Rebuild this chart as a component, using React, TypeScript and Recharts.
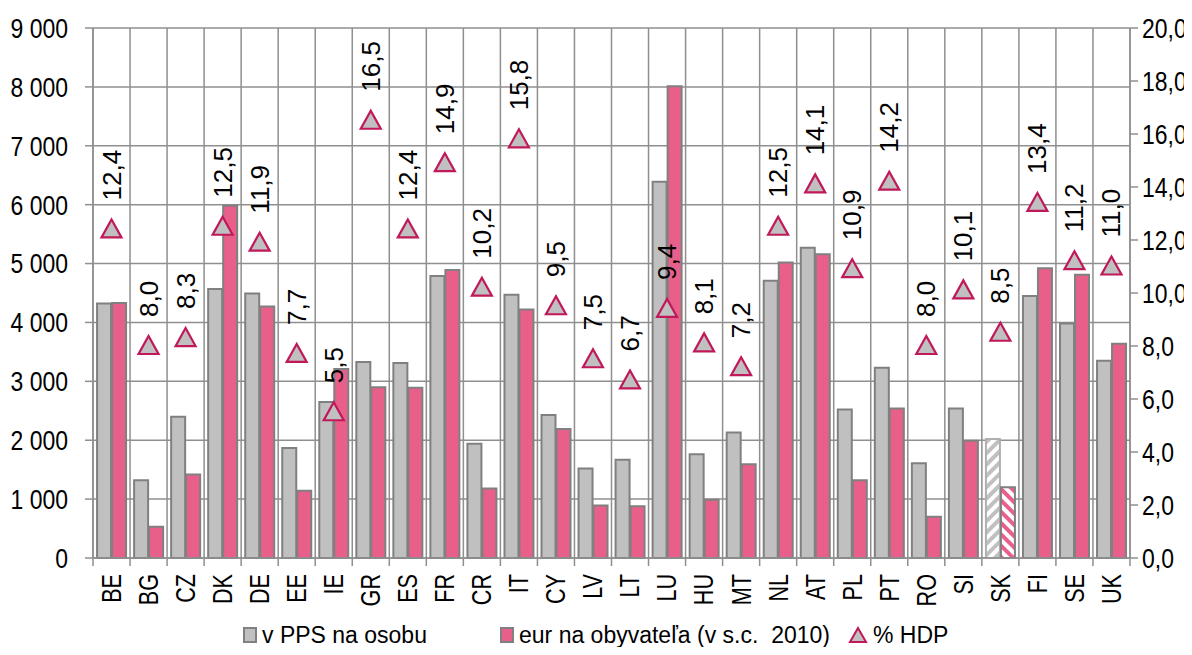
import React from 'react';
import {
  ComposedChart, Bar, Scatter, XAxis, YAxis, CartesianGrid, Legend, Cell, LabelList,
} from 'recharts';

const countries = [
  'BE', 'BG', 'CZ', 'DK', 'DE', 'EE', 'IE', 'GR', 'ES', 'FR', 'CR', 'IT', 'CY', 'LV',
  'LT', 'LU', 'HU', 'MT', 'NL', 'AT', 'PL', 'PT', 'RO', 'SI', 'SK', 'FI', 'SE', 'UK',
];
const ppsPerPerson = [
  4320, 1320, 2400, 4570, 4490, 1870, 2650, 3330, 3310, 4790, 1940, 4470, 2430, 1520,
  1670, 6390, 1760, 2130, 4710, 5270, 2520, 3230, 1610, 2540, 2020, 4450, 3980, 3350,
];
const eurPerInhabitant = [
  4330, 530, 1420, 5980, 4270, 1140, 3210, 2900, 2890, 4890, 1180, 4220, 2190, 890,
  880, 8010, 990, 1590, 5020, 5160, 1320, 2540, 700, 1990, 1200, 4920, 4810, 3640,
];
const hdpShare = [
  12.4, 8.0, 8.3, 12.5, 11.9, 7.7, 5.5, 16.5, 12.4, 14.9, 10.2, 15.8, 9.5, 7.5,
  6.7, 9.4, 8.1, 7.2, 12.5, 14.1, 10.9, 14.2, 8.0, 10.1, 8.5, 13.4, 11.2, 11.0,
];
const hatchedCountry = 'SK';

const leftTicks = [0, 1000, 2000, 3000, 4000, 5000, 6000, 7000, 8000, 9000];
const rightTicks = [0, 2, 4, 6, 8, 10, 12, 14, 16, 18, 20];

const seriesNames = ['v PPS na osobu', 'eur na obyvateľa (v s.c.  2010)', '% HDP'];

const data = countries.map((country, i) => ({
  country,
  pps: ppsPerPerson[i],
  eur: eurPerInhabitant[i],
  hdp: hdpShare[i],
}));

const FONT = '"Liberation Sans", Arial, sans-serif';
const GRID = '#8f8f8f';
const GREY_FILL = '#c0c0c0';
const PINK_FILL = '#e8608a';
const BAR_STROKE = '#808080';
const TRI_STROKE = '#c0185a';
const NARROW = 0.82;

const fmtLeft = (v: number) => (v === 0 ? '0' : `${v / 1000} 000`);
const fmtRight = (v: number) => v.toFixed(1).replace('.', ',');

// axis text squeezed horizontally, like Arial Narrow
function AxisTick(props: any) {
  const { x, y, payload, anchor, format } = props;
  return (
    <text
      transform={`translate(${x} ${y}) scale(${NARROW} 1)`}
      textAnchor={anchor}
      dominantBaseline="central"
      fontSize={28}
      fill="#000"
      fontFamily={FONT}
    >
      {format(payload.value)}
    </text>
  );
}

function CountryTick(props: any) {
  const { x, y, payload, index, visibleTicksCount, width } = props;
  const step = width / visibleTicksCount;
  const top = y - 10;
  return (
    <g>
      <line x1={x - step / 2} x2={x - step / 2} y1={top} y2={top + 8} stroke={GRID} strokeWidth={1.5} />
      {index === visibleTicksCount - 1 && (
        <line x1={x + step / 2} x2={x + step / 2} y1={top} y2={top + 8} stroke={GRID} strokeWidth={1.5} />
      )}
      <text
        transform={`translate(${x} ${y + 6}) rotate(-90) scale(0.8 1)`}
        textAnchor="end"
        dominantBaseline="central"
        fontSize={27}
        fill="#000"
        fontFamily={FONT}
      >
        {payload.value}
      </text>
    </g>
  );
}

function Triangle(props: any) {
  const { cx, cy } = props;
  return (
    <polygon
      points={`${cx - 10},${cy + 8} ${cx + 10},${cy + 8} ${cx},${cy - 10}`}
      fill={GREY_FILL}
      stroke={TRI_STROKE}
      strokeWidth={2.2}
    />
  );
}

function HdpLabel(props: any) {
  const { x, y, width, height, value } = props;
  const cx = x + (width || 0) / 2;
  const cy = y + (height || 0) / 2;
  const ly = cy - 29;
  return (
    <text
      transform={`translate(${cx} ${ly}) rotate(-90)`}
      textAnchor="start"
      dominantBaseline="central"
      fontSize={26}
      fill="#000"
      fontFamily={FONT}
    >
      {fmtRight(value)}
    </text>
  );
}

function LegendBox() {
  const item = { display: 'flex', alignItems: 'center', gap: 5, flexShrink: 0 } as const;
  return (
    <div
      style={{
        height: 45,
        boxSizing: 'border-box',
        paddingTop: 4,
        display: 'flex',
        alignItems: 'center',
        fontFamily: FONT,
        fontSize: 23,
        lineHeight: '28px',
        color: '#000',
        paddingLeft: 243,
      }}
    >
      <div style={{ ...item, width: 257 }}>
        <svg width={14} height={16}>
          <rect x={1} y={1} width={12} height={14} fill={GREY_FILL} stroke={BAR_STROKE} strokeWidth={2} />
        </svg>
        <span>{seriesNames[0]}</span>
      </div>
      <div style={{ ...item, width: 348 }}>
        <svg width={14} height={16}>
          <rect x={1} y={1} width={12} height={14} fill={PINK_FILL} stroke={BAR_STROKE} strokeWidth={2} />
        </svg>
        <span style={{ whiteSpace: 'pre' }}>{seriesNames[1]}</span>
      </div>
      <div style={item}>
        <svg width={20} height={18}>
          <polygon points="2,16 18,16 10,2" fill={GREY_FILL} stroke={TRI_STROKE} strokeWidth={2} />
        </svg>
        <span>{seriesNames[2]}</span>
      </div>
    </div>
  );
}

export default function App() {
  return (
    <div style={{ margin: -8, width: 1192, height: 655, background: '#fff' }}>
      <ComposedChart
        width={1192}
        height={655}
        data={data}
        margin={{ top: 28, right: 0, left: 0, bottom: 0 }}
        barCategoryGap="11%"
        barGap={1}
      >
        <defs>
          <pattern id="hatchGrey" width="8" height="8" patternUnits="userSpaceOnUse" patternTransform="rotate(45)">
            <rect width="8" height="8" fill="#fff" />
            <rect width="4" height="8" fill={GREY_FILL} />
          </pattern>
          <pattern id="hatchPink" width="8" height="8" patternUnits="userSpaceOnUse" patternTransform="rotate(-45)">
            <rect width="8" height="8" fill="#fff" />
            <rect width="4" height="8" fill={PINK_FILL} />
          </pattern>
        </defs>
        <CartesianGrid
          yAxisId="left"
          stroke={GRID}
          strokeWidth={1.5}
          verticalCoordinatesGenerator={({ offset }: any) =>
            Array.from({ length: countries.length + 1 }, (_, i) => offset.left + (i * offset.width) / countries.length)
          }
        />
        <XAxis
          dataKey="country"
          interval={0}
          height={52}
          tickSize={8}
          tickMargin={2}
          tickLine={false}
          axisLine={{ stroke: GRID, strokeWidth: 1.5 }}
          tick={<CountryTick />}
        />
        <YAxis
          yAxisId="left"
          width={93}
          domain={[0, 9000]}
          ticks={leftTicks}
          tickSize={8}
          tickMargin={17}
          axisLine={{ stroke: GRID, strokeWidth: 1.5 }}
          tickLine={{ stroke: GRID, strokeWidth: 1.5 }}
          tick={<AxisTick anchor="end" format={fmtLeft} />}
        />
        <YAxis
          yAxisId="right"
          orientation="right"
          width={62}
          domain={[0, 20]}
          ticks={rightTicks}
          tickSize={8}
          tickMargin={4}
          axisLine={{ stroke: GRID, strokeWidth: 1.5 }}
          tickLine={{ stroke: GRID, strokeWidth: 1.5 }}
          tick={<AxisTick anchor="start" format={fmtRight} />}
        />
        <Legend verticalAlign="bottom" content={<LegendBox />} />
        <Bar yAxisId="left" dataKey="pps" name={seriesNames[0]} fill={GREY_FILL} stroke={BAR_STROKE} strokeWidth={2} isAnimationActive={false}>
          {data.map((d) => (
            <Cell key={d.country} fill={d.country === hatchedCountry ? 'url(#hatchGrey)' : GREY_FILL} stroke={d.country === hatchedCountry ? '#b0b0b0' : BAR_STROKE} />
          ))}
        </Bar>
        <Bar yAxisId="left" dataKey="eur" name={seriesNames[1]} fill={PINK_FILL} stroke={BAR_STROKE} strokeWidth={2} isAnimationActive={false}>
          {data.map((d) => (
            <Cell key={d.country} fill={d.country === hatchedCountry ? 'url(#hatchPink)' : PINK_FILL} />
          ))}
        </Bar>
        <Scatter yAxisId="right" dataKey="hdp" name={seriesNames[2]} shape={<Triangle />} isAnimationActive={false}>
          <LabelList dataKey="hdp" content={<HdpLabel />} />
        </Scatter>
      </ComposedChart>
    </div>
  );
}
